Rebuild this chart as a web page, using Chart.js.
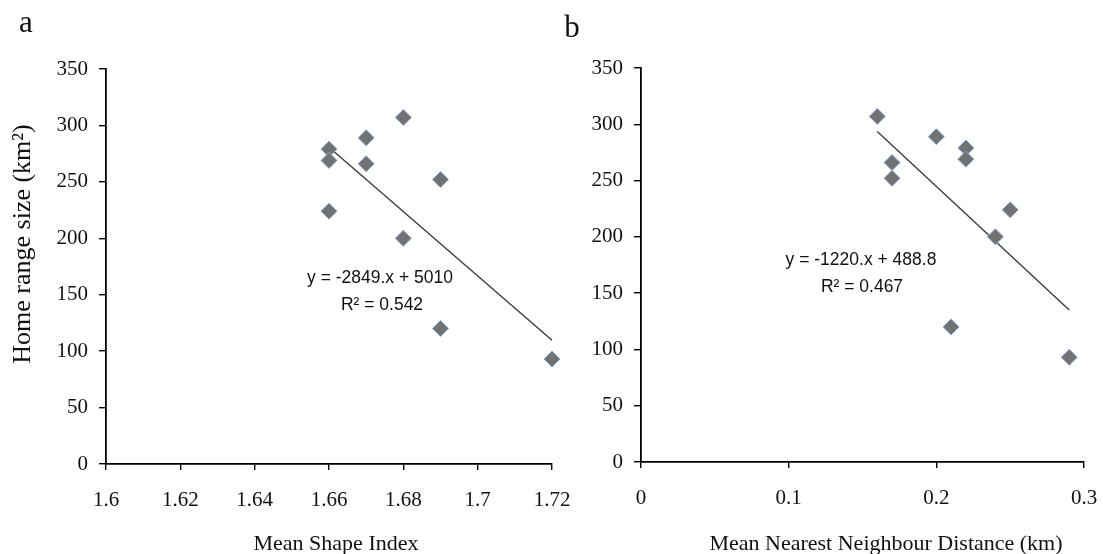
<!DOCTYPE html>
<html><head><meta charset="utf-8">
<script src="https://cdn.jsdelivr.net/npm/chart.js@4.4.1/dist/chart.umd.min.js"></script>
<style>
html,body{margin:0;padding:0;background:#fff;}
body{width:1103px;height:554px;position:relative;overflow:hidden;}
#ca{position:absolute;left:0;top:0;}
#cb{position:absolute;left:560px;top:0;}
</style></head><body>
<canvas id="ca" width="600" height="554"></canvas>
<canvas id="cb" width="543" height="554"></canvas>
<script>
// ---- data ----
const msiX = [1.66, 1.66, 1.66, 1.67, 1.67, 1.68, 1.68, 1.69, 1.69, 1.72];
const msiY = [279, 269, 224, 289, 266, 307, 200, 252, 120, 93];
const nndX = [0.16, 0.17, 0.17, 0.20, 0.22, 0.22, 0.25, 0.24, 0.21, 0.29];
const nndY = [307, 266, 252, 289, 279, 269, 224, 200, 120, 93];
const trendA = {slope: -2849, intercept: 5010};
const trendB = {slope: -1220, intercept: 488.8};
const xTicksA = [1.6, 1.62, 1.64, 1.66, 1.68, 1.7, 1.72];
const xTicksB = [0, 0.1, 0.2, 0.3];
const yTicks = [0, 50, 100, 150, 200, 250, 300, 350];
const eqA = ["y = -2849.x + 5010", "R\u00B2 = 0.542"];
const eqB = ["y = -1220.x + 488.8", "R\u00B2 = 0.467"];
const yTitle = "Home range size (km\u00B2)";
const xTitleA = "Mean Shape Index";
const xTitleB = "Mean Nearest Neighbour Distance (km)";

const SERIF = "'Liberation Serif','Times New Roman',serif";
const SANS = "'Liberation Sans',Arial,sans-serif";

function pts(xs, ys){ return xs.map((x,i)=>({x:x, y:ys[i]})); }
function trend(xs, t){
  const a = Math.min(...xs), b = Math.max(...xs);
  return [{x:a, y:t.slope*a+t.intercept},{x:b, y:t.slope*b+t.intercept}];
}
function fmt(v){ return String(+Number(v).toFixed(2)); }

function textPlugin(items){
  return {
    id:'texts',
    afterDraw(chart){
      const ctx = chart.ctx;
      ctx.save();
      items.forEach(it=>{
        ctx.save();
        ctx.font = it.font;
        ctx.fillStyle = it.color || '#111';
        ctx.textAlign = 'center';
        ctx.textBaseline = it.baseline || 'middle';
        ctx.translate(it.x, it.y);
        if (it.rot) ctx.rotate(it.rot);
        ctx.fillText(it.text, 0, 0);
        ctx.restore();
      });
      ctx.restore();
    }
  };
}

function makeChart(el, cfg){
  return new Chart(el, {
    type:'scatter',
    data:{datasets:[
      {type:'line', data:cfg.trend, borderColor:'#3c3c3c', borderWidth:1.4, pointRadius:0, fill:false, clip:false, order:2},
      {data:cfg.points, pointStyle:'rectRot', pointRadius:8, pointHoverRadius:8,
       backgroundColor:'#727272', borderColor:'#86a6d4', borderWidth:1, clip:false, order:1}
    ]},
    options:{
      responsive:false, animation:false, devicePixelRatio:1,
      layout:{padding:cfg.pad},
      plugins:{legend:{display:false}, tooltip:{enabled:false}},
      events:[],
      scales:{
        x:{type:'linear', position:'bottom', min:cfg.xTicks[0], max:cfg.xTicks[cfg.xTicks.length-1],
          afterBuildTicks:s=>{ s.ticks = cfg.xTicks.map(v=>({value:v})); },
          afterFit:s=>{ s.height = cfg.xh; s.paddingLeft = 0; s.paddingRight = 0; },
          ticks:{font:{family:SERIF, size:21}, color:'#111', padding:18, maxRotation:0, autoSkip:false, callback:v=>fmt(v)},
          grid:{display:true, drawOnChartArea:false, drawTicks:true, tickLength:6, color:'#000', lineWidth:1.4},
          border:{display:true, color:'#000', width:1.8}
        },
        y:{type:'linear', position:'left', min:0, max:350,
          afterBuildTicks:s=>{ s.ticks = yTicks.map(v=>({value:v})); },
          afterFit:s=>{ s.width = cfg.yw; s.paddingTop = 0; s.paddingBottom = 0; },
          ticks:{font:{family:SERIF, size:21}, color:'#111', padding:11, autoSkip:false, callback:v=>fmt(v)},
          grid:{display:true, drawOnChartArea:false, drawTicks:true, tickLength:7, color:'#000', lineWidth:1.4},
          border:{display:true, color:'#000', width:1.8}
        }
      }
    },
    plugins:[textPlugin(cfg.texts)]
  });
}

makeChart(document.getElementById('ca'), {
  points:pts(msiX, msiY), trend:trend(msiX, trendA), xTicks:xTicksA,
  pad:{left:0, right:48, top:69, bottom:0}, xh:90, yw:106,
  texts:[
    {text:'a', x:26, y:32, font:'31px '+SERIF, baseline:'alphabetic'},
    {text:yTitle, x:23, y:244, font:'26px '+SERIF, rot:-Math.PI/2},
    {text:xTitleA, x:336, y:550, font:'22px '+SERIF, baseline:'alphabetic'},
    {text:eqA[0], x:380, y:278, font:'17.5px '+SANS},
    {text:eqA[1], x:382, y:305, font:'17.5px '+SANS}
  ]
});

makeChart(document.getElementById('cb'), {
  points:pts(nndX, nndY), trend:trend(nndX, trendB), xTicks:xTicksB,
  pad:{left:0, right:19, top:68, bottom:0}, xh:92, yw:81,
  texts:[
    {text:'b', x:12, y:37, font:'31px '+SERIF, baseline:'alphabetic'},
    {text:xTitleB, x:326, y:550, font:'22px '+SERIF, baseline:'alphabetic'},
    {text:eqB[0], x:301, y:260, font:'17.5px '+SANS},
    {text:eqB[1], x:302, y:287, font:'17.5px '+SANS}
  ]
});
</script>
</body></html>
